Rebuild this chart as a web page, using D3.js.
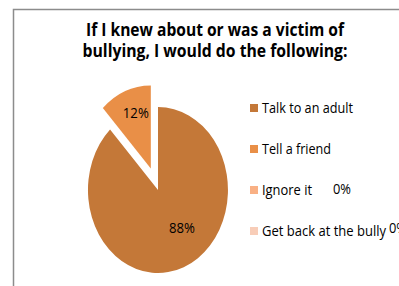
<!DOCTYPE html>
<html>
<head>
<meta charset="utf-8">
<script src="https://cdn.jsdelivr.net/npm/d3@7"></script>
<style>
  html, body { margin: 0; padding: 0; background: #fff; }
  svg { display: block; }
  text { font-family: "Open Sans", "DejaVu Sans Condensed", sans-serif; fill: #000; }
</style>
</head>
<body>
<svg id="chart" width="399" height="286"></svg>
<script>
// chart data
const titleLines = ['If I knew about or was a victim of', 'bullying, I would do the following:'];
const categories = ['Talk to an adult', 'Tell a friend', 'Ignore it', 'Get back at the bully'];
const values = [88, 12, 0, 0];
const labels = ['88%', '12%', '0%', '0%'];
const colors = ['#c47838', '#e98f47', '#f9b084', '#f8cdb8'];

// the reference font (Calibri) is narrow, so texts are squeezed to its widths
const titleWidths = [258, 265];
const legendWidths = [91, 69, 50, 124];

const svg = d3.select('#chart');

// frame (only top and left edges are visible in the crop)
svg.append('path')
  .attr('d', 'M13.5,286 L13.5,9.5 L399,9.5')
  .attr('fill', 'none')
  .attr('stroke', '#8c8c8c')
  .attr('stroke-width', 1.5);

// title
svg.append('g').selectAll('text')
  .data(titleLines)
  .enter()
  .append('text')
    .attr('x', 215)
    .attr('y', (d, i) => 36 + i * 21)
    .attr('text-anchor', 'middle')
    .attr('font-size', 18)
    .attr('font-weight', 'bold')
    .attr('textLength', (d, i) => titleWidths[i])
    .attr('lengthAdjust', 'spacingAndGlyphs')
    .text(d => d);

// pie, drawn on a unit circle and stretched into an ellipse
const cx = 158, cy = 190, rx = 70, ry = 83;
const explode = 0.28;
const pie = d3.pie().sort(null).value(d => d)(values);
const arc = d3.arc().innerRadius(0).outerRadius(1);
const labelArc = d3.arc().innerRadius(0.62).outerRadius(0.62);
// small hand nudges so the labels sit where Excel put them
const labelNudge = [[8, -10], [1, -8]];

const pieG = svg.append('g').attr('transform', `translate(${cx},${cy})`);

pie.forEach((p, i) => {
  if (p.value === 0) return;
  const mid = (p.startAngle + p.endAngle) / 2;
  const off = i === 1 ? explode : 0;
  const dx = Math.sin(mid) * off * rx;
  const dy = -Math.cos(mid) * off * ry;
  pieG.append('path')
    .attr('d', arc(p))
    .attr('fill', colors[i])
    .attr('transform', `translate(${dx},${dy}) scale(${rx},${ry})`);
  const c = labelArc.centroid(p);
  pieG.append('text')
    .attr('x', c[0] * rx + dx + labelNudge[i][0])
    .attr('y', c[1] * ry + dy + labelNudge[i][1] + 5)
    .attr('text-anchor', 'middle')
    .attr('font-size', 14)
    .attr('textLength', 26)
    .attr('lengthAdjust', 'spacingAndGlyphs')
    .text(labels[i]);
});

// legend
const legend = svg.append('g').attr('transform', 'translate(250,0)');
const rowY = d3.scalePoint().domain(categories).range([108, 231]);
categories.forEach((c, i) => {
  legend.append('rect')
    .attr('x', 0)
    .attr('y', rowY(c) - 4)
    .attr('width', 8)
    .attr('height', 8)
    .attr('fill', colors[i]);
  legend.append('text')
    .attr('x', 12)
    .attr('y', rowY(c) + 5)
    .attr('font-size', 14.5)
    .attr('textLength', legendWidths[i])
    .attr('lengthAdjust', 'spacingAndGlyphs')
    .text(c);
});

// labels of the empty slices, pushed out beside the legend
const zeroLabelPos = [[333, 194], [389, 233]];
[2, 3].forEach((k, j) => {
  svg.append('text')
    .attr('x', zeroLabelPos[j][0])
    .attr('y', zeroLabelPos[j][1])
    .attr('font-size', 14)
    .attr('textLength', 18)
    .attr('lengthAdjust', 'spacingAndGlyphs')
    .text(labels[k]);
});
</script>
</body>
</html>
